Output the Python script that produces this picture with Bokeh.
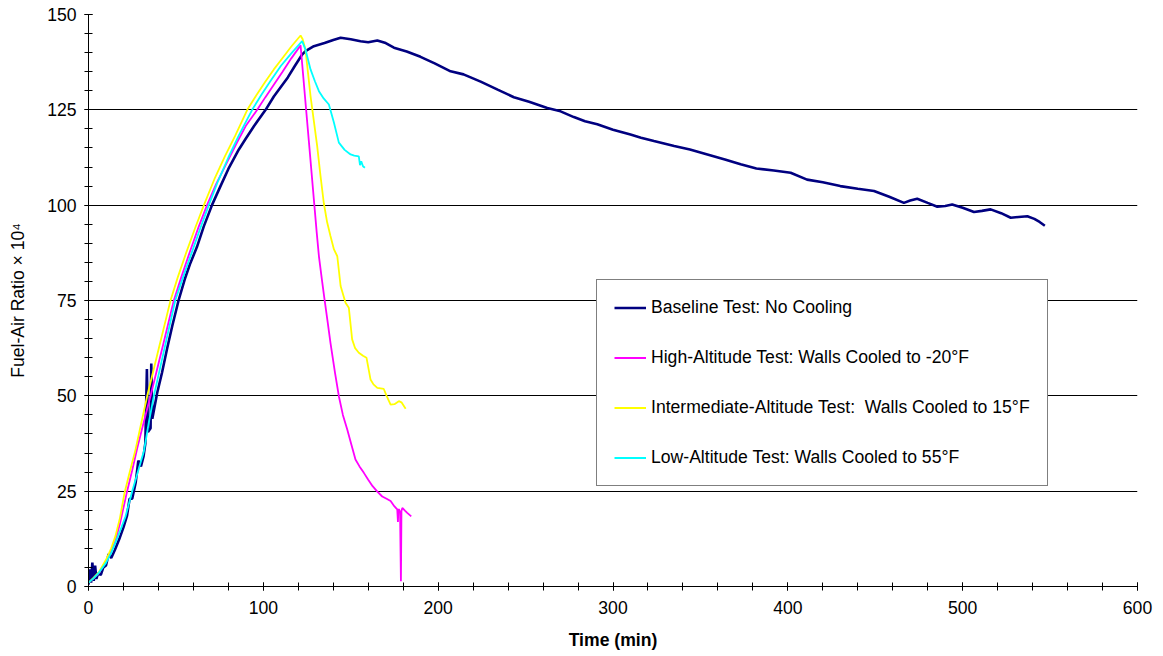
from bokeh.plotting import figure
from bokeh.models import SingleIntervalTicker, Range1d, Legend, LegendItem
from bokeh.embed import file_html
from bokeh.resources import INLINE

# ---------------- data ----------------
base_t = [0, 0.8, 1.5, 2.2, 3, 3.8, 4.5, 5.5, 7, 8.5, 10, 11.5, 13, 15, 17.5, 20, 22, 23.5, 25, 27,
          28.5, 30, 31.5, 32.5, 33.4, 34, 35.5, 35.9, 36.5, 39.3, 42, 45, 48, 51.5, 55, 58, 62, 66,
          70.8, 75.5, 80, 86, 90, 94.6, 101.3, 106, 110, 114, 118, 122.2, 124.1, 128.9, 135, 140,
          144.2, 150, 155.6, 160, 165.2, 170, 174.7, 182, 189.9, 198, 207.1, 214.5, 224.3, 234,
          243.3, 252, 262.4, 270, 277.6, 284, 291, 300, 310, 316, 323.4, 335, 344, 354, 364, 373,
          382, 392, 401.6, 411, 420, 430, 440, 449.3, 458, 466.4, 470, 474, 480, 485.5, 490, 494,
          500, 506.5, 511, 516, 522, 527.5, 532, 537, 541, 544, 547]
base_y = [0.5, 4.5, 1.0, 6.3, 1.5, 5.5, 2.0, 3.5, 3.0, 5.0, 5.5, 8.5, 7.5, 9.5, 12.3, 15.5, 18.5,
          23.0, 23.0, 27.3, 33.0, 31.5, 34.2, 37.5, 57.0, 40.5, 41.5, 58.5, 44.0, 50.8, 56.0, 62.5,
          68.5, 75.0, 80.5, 84.5, 89.0, 94.5, 100.2, 105.0, 109.5, 114.6, 117.5, 120.7, 125.0,
          128.5, 131.0, 133.5, 136.5, 139.5, 140.4, 141.7, 142.5, 143.3, 143.9, 143.5, 143.0,
          142.7, 143.2, 142.5, 141.3, 140.3, 138.9, 137.2, 135.1, 134.3, 132.4, 130.3, 128.3,
          127.1, 125.5, 124.6, 123.1, 122.0, 121.2, 119.8, 118.5, 117.7, 116.8, 115.5, 114.6,
          113.3, 112.0, 110.7, 109.6, 109.1, 108.5, 106.7, 106.0, 105.0, 104.3, 103.7, 102.2,
          100.6, 101.2, 101.7, 100.6, 99.6, 99.8, 100.2, 99.3, 98.2, 98.5, 98.9, 97.9, 96.7, 96.9,
          97.1, 96.4, 95.6, 94.6]

high_t = [0, 3, 6, 10, 13, 15.4, 18, 22.1, 25, 28, 31, 35.5, 39, 43, 48.8, 53, 58, 63, 67.8, 73,
          79, 85, 90, 96.5, 101, 106, 111, 116, 121.3,
          123.5, 126, 128.9, 130.5, 131.8, 133.5, 135, 136.8, 138.4, 141, 143.2, 145.5, 148,
          150.5, 152.7, 155, 157.5, 160, 162.5, 165.2, 168, 170.5, 172.8, 175, 176.6, 177.0,
          177.2, 177.5, 178.2, 178.7, 179.0, 179.5, 181, 182.3, 184.6]
high_y = [1, 2.2, 3.6, 6.5, 9.5, 12, 16.5, 25, 30.5, 36.5, 42, 50, 56.5, 64, 75, 81, 87.8, 94.3,
          100, 105.5, 111, 116.5, 120.8, 125, 128.2, 131.6, 135, 138.5, 141.9,
          130.2, 117, 101.5, 93, 86.6, 80.5, 75.3, 69.3, 63.9, 56, 49.9, 45, 41.2, 37, 33.3,
          31.5, 29.8, 28, 26.3, 24.9, 23.6, 23, 22.4, 21, 20.2, 16.9, 20.0, 20.3, 19.5, 1.4,
          19.8, 20.6, 19.9, 19.3, 18.4]

mid_t = [0, 3, 6, 10, 13, 15.4, 18, 20.5, 23, 26.9, 30, 33.6, 37, 40.5, 43.5, 46.9, 51, 56, 61,
         66, 72, 78, 84, 90.8, 96, 101, 106, 111, 116, 121.3,
         122.5, 124.1, 127, 130.8, 132.7, 134.6, 136.5, 138.4, 140.4, 142.3, 144.2, 147, 148.9,
         150.8, 152.5, 154.6, 157, 159, 161.3, 163, 165.2, 168.9, 170.5, 172.8, 175, 177.5,
         179, 181.4]
mid_y = [1, 2.3, 3.8, 7, 10, 13.2, 18, 24.3, 29, 35.9, 42.5, 50, 56.4, 63, 68.6, 75, 81, 87.7,
         94, 100, 106.8, 112.8, 118.3, 125, 128.8, 132.3, 135.6, 138.6, 141.6, 144.5,
         143.5, 140.8, 128.6, 115.5, 107.7, 100.5, 95.5, 91.9, 88.4, 86.6, 78.8, 74.4, 73.1,
         64.8, 62.5, 61.3, 60.5, 60, 54.3, 53, 52.1, 51.8, 50, 47.7, 47.8, 48.6, 48.3, 46.6]

low_t = [0, 3, 5.9, 10, 13, 15.4, 18, 21.2, 25, 28.5, 31.7, 34.5, 37.4, 41, 45, 49.6, 54, 59, 64,
         68.8, 74, 80, 86, 93.6, 99, 104, 110, 116, 122.2,
         124.1, 127, 129.5, 131.8, 134.5, 137.5, 140.4, 143.2, 146.5, 149.9, 152, 154.6, 155.3,
         156, 157, 158.1]
low_y = [1, 2.2, 3.6, 6.2, 8.8, 11.5, 14.5, 18.4, 25, 30.5, 35.5, 43, 50, 57.4, 65.6, 75, 81,
         87.5, 94, 100, 106.2, 112.5, 118.3, 125, 129, 132.5, 136.5, 139.8, 143,
         140.8, 135.6, 132.5, 129.9, 128, 126.4, 121.6, 116.4, 114.5, 113.3, 113, 112.8, 110.5,
         111.5, 110.2, 109.8]

series_labels = ["Baseline Test: No Cooling",
                 "High-Altitude Test: Walls Cooled to -20°F",
                 "Intermediate-Altitude Test:  Walls Cooled to 15°F",
                 "Low-Altitude Test: Walls Cooled to 55°F"]
x_label = "Time (min)"
y_label = "Fuel-Air Ratio × 10⁴"

# ---------------- figure ----------------
FONT = "Liberation Sans"
FS = "17.6px"
p = figure(width=1155, height=652, output_backend="svg", toolbar_location=None,
           x_range=Range1d(0, 600), y_range=Range1d(0, 150),
           min_border_left=88, min_border_right=18, min_border_top=14, min_border_bottom=66)
p.outline_line_color = None
p.background_fill_color = "white"
p.border_fill_color = "white"

colors = ["#000080", "#FF00FF", "#FFFF00", "#00FFFF"]
widths = [2.6, 1.8, 1.8, 1.8]
data = [(base_t, base_y), (high_t, high_y), (mid_t, mid_y), (low_t, low_y)]
renderers = []
for (xs, ys), c, w in zip(data, colors, widths):
    renderers.append(p.line(xs, ys, line_color=c, line_width=w))

p.xaxis.ticker = SingleIntervalTicker(interval=100, num_minor_ticks=5)
p.yaxis.ticker = SingleIntervalTicker(interval=25, num_minor_ticks=5)
p.xgrid.visible = False
p.ygrid.grid_line_color = "black"
p.ygrid.grid_line_alpha = 1
p.ygrid.grid_line_width = 1

for ax in (p.xaxis, p.yaxis):
    ax.axis_line_color = "black"
    ax.major_tick_line_color = "black"
    ax.minor_tick_line_color = "black"
    ax.major_tick_in = 4
    ax.major_tick_out = 4
    ax.minor_tick_in = 4
    ax.minor_tick_out = 4
    ax.major_label_text_font = FONT
    ax.major_label_text_font_size = FS
    ax.major_label_text_color = "black"
    ax.axis_label_text_font = FONT
    ax.axis_label_text_font_size = FS
    ax.axis_label_text_color = "black"

p.xaxis.axis_label = x_label
p.xaxis.axis_label_text_font_style = "bold"
p.xaxis.major_label_standoff = 10
p.xaxis.axis_label_standoff = 13
p.yaxis.axis_label = y_label
p.yaxis.axis_label_text_font_style = "normal"
p.yaxis.major_label_standoff = 8
p.yaxis.axis_label_standoff = 16

legend = Legend(items=[LegendItem(label=lbl, renderers=[r]) for lbl, r in zip(series_labels, renderers)],
                location=(508, 100))
legend.border_line_color = "black"
legend.border_line_width = 1
legend.background_fill_color = "white"
legend.background_fill_alpha = 1
legend.padding = 17
legend.spacing = 29
legend.margin = 0
legend.label_height = 21
legend.glyph_height = 21
legend.glyph_width = 32
legend.label_standoff = 5
legend.label_text_font = FONT
legend.label_text_font_size = FS
legend.label_text_color = "black"
p.add_layout(legend)

open("out.html", "w").write(file_html(p, INLINE))
